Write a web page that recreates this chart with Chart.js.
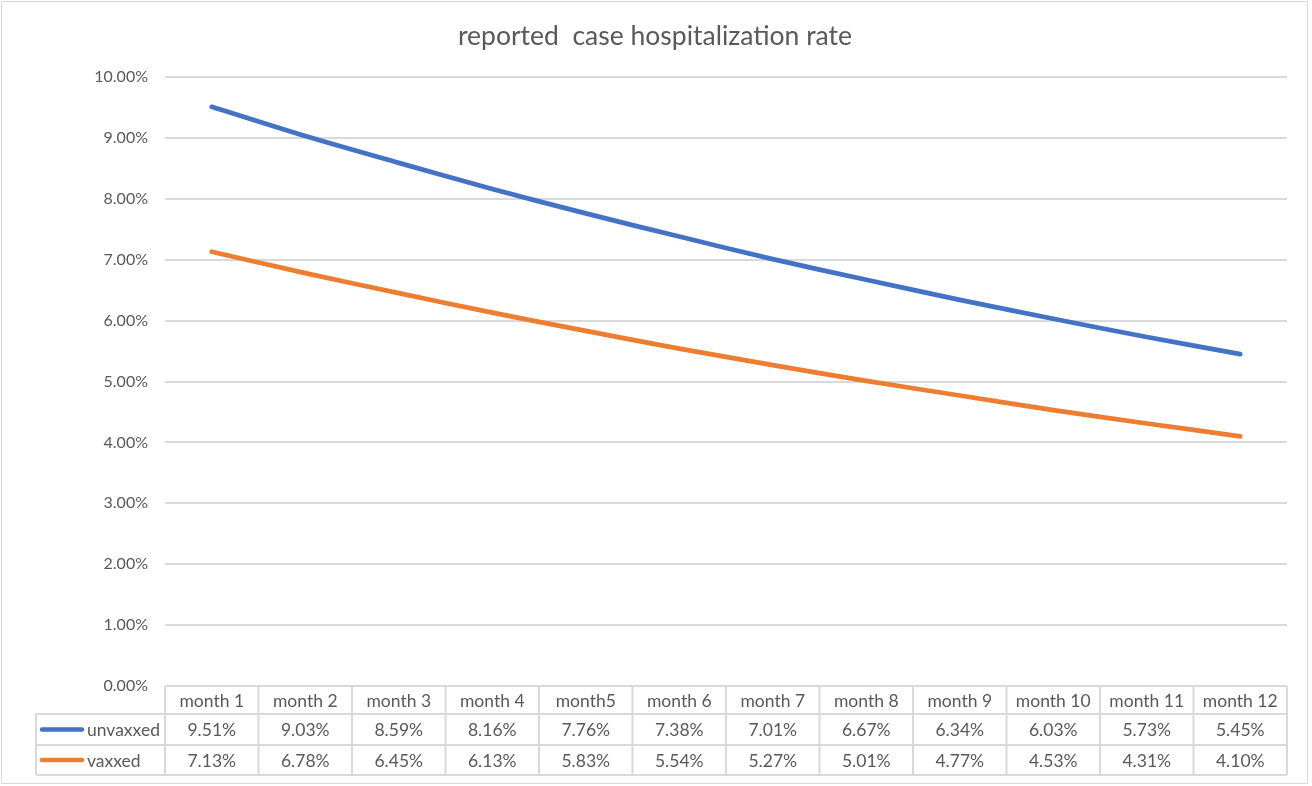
<!DOCTYPE html>
<html>
<head>
<meta charset="utf-8">
<title>reported case hospitalization rate</title>
<script src="https://cdn.jsdelivr.net/npm/chart.js@4.4.1/dist/chart.umd.min.js"></script>
<style>
  html, body { margin: 0; padding: 0; background: #fff; }
  canvas { display: block; }
</style>
</head>
<body>
<canvas id="rateChart" width="1312" height="786"></canvas>
<script>
// data
const months = ["month 1", "month 2", "month 3", "month 4", "month5", "month 6",
  "month 7", "month 8", "month 9", "month 10", "month 11", "month 12"];
const unvaxxed = [9.51, 9.03, 8.59, 8.16, 7.76, 7.38, 7.01, 6.67, 6.34, 6.03, 5.73, 5.45];
const vaxxed = [7.13, 6.78, 6.45, 6.13, 5.83, 5.54, 5.27, 5.01, 4.77, 4.53, 4.31, 4.10];
const yTicks = [0, 1, 2, 3, 4, 5, 6, 7, 8, 9, 10];

const FONT = "Lato, 'Noto Sans', sans-serif";
const TEXT = "#595959";
const GRID = "#d9d9d9";
const BLUE = "#4472c4";
const ORANGE = "#ed7d31";

// draws title, the data table with legend keys, and the outer frame
const tablePlugin = {
  id: "dataTable",
  afterDraw(chart) {
    const ctx = chart.ctx;
    const area = chart.chartArea;
    const x = chart.scales.x;
    const colW = (area.right - area.left) / months.length;
    const top = area.bottom;
    const rows = [top, top + 28, top + 59, top + 89];
    const legendLeft = 36;

    ctx.save();
    // frame
    ctx.strokeStyle = GRID;
    ctx.lineWidth = 1;
    ctx.strokeRect(1.5, 1.5, 1306, 782);

    // title
    ctx.fillStyle = TEXT;
    ctx.font = "26.5px " + FONT;
    ctx.textAlign = "center";
    ctx.textBaseline = "alphabetic";
    ctx.fillText("reported  case hospitalization rate", 655, 45);

    // table grid
    ctx.strokeStyle = GRID;
    ctx.lineWidth = 2;
    ctx.beginPath();
    ctx.moveTo(area.left, rows[0]); ctx.lineTo(area.right, rows[0]);
    for (let r = 1; r < rows.length; r++) {
      ctx.moveTo(legendLeft, rows[r]); ctx.lineTo(area.right, rows[r]);
    }
    ctx.moveTo(legendLeft, rows[1]); ctx.lineTo(legendLeft, rows[3]);
    for (let i = 0; i <= months.length; i++) {
      const cx = area.left + i * colW;
      ctx.moveTo(cx, rows[0]); ctx.lineTo(cx, rows[3]);
    }
    ctx.stroke();

    // cells
    ctx.fillStyle = TEXT;
    ctx.font = "17.5px " + FONT;
    ctx.textAlign = "center";
    ctx.textBaseline = "middle";
    months.forEach((m, i) => {
      const cx = x.getPixelForValue(i);
      ctx.fillText(m, cx, (rows[0] + rows[1]) / 2 + 1);
      ctx.fillText(unvaxxed[i].toFixed(2) + "%", cx, (rows[1] + rows[2]) / 2 + 1);
      ctx.fillText(vaxxed[i].toFixed(2) + "%", cx, (rows[2] + rows[3]) / 2 + 1);
    });

    // legend keys
    const series = [["unvaxxed", BLUE], ["vaxxed", ORANGE]];
    series.forEach((s, k) => {
      const cy = (rows[k + 1] + rows[k + 2]) / 2;
      ctx.strokeStyle = s[1];
      ctx.lineWidth = 4.5;
      ctx.lineCap = "round";
      ctx.beginPath();
      ctx.moveTo(42, cy); ctx.lineTo(82, cy);
      ctx.stroke();
      ctx.fillStyle = TEXT;
      ctx.textAlign = "left";
      ctx.fillText(s[0], 87, cy + 1);
    });
    ctx.restore();
  }
};

const ctx = document.getElementById("rateChart").getContext("2d");
const rateChart = new Chart(ctx, {
  type: "line",
  data: {
    labels: months,
    datasets: [
      {
        label: "unvaxxed",
        data: unvaxxed,
        borderColor: BLUE,
        borderWidth: 4.75,
        borderCapStyle: "round",
        pointRadius: 0,
        tension: 0.3,
      },
      {
        label: "vaxxed",
        data: vaxxed,
        borderColor: ORANGE,
        borderWidth: 4.75,
        borderCapStyle: "round",
        pointRadius: 0,
        tension: 0.3,
      },
    ],
  },
  options: {
    responsive: false,
    animation: false,
    devicePixelRatio: 1,
    layout: { padding: { left: 0, top: 77, right: 25, bottom: 100 } },
    plugins: {
      legend: { display: false },
      title: { display: false },
      tooltip: { enabled: false },
    },
    scales: {
      x: {
        offset: true,
        grid: { display: false },
        border: { display: false },
        ticks: { display: false },
        afterFit: (s) => { s.height = 0; },
      },
      y: {
        min: 0,
        max: 10,
        afterBuildTicks: (s) => { s.ticks = yTicks.map((v) => ({ value: v })); },
        afterFit: (s) => { s.width = 165; },
        border: { display: false },
        grid: { color: GRID, lineWidth: 2, drawTicks: false },
        ticks: {
          padding: 17,
          color: TEXT,
          font: { family: FONT, size: 16 },
          callback: (v) => Number(v).toFixed(2) + "%",
        },
      },
    },
  },
  plugins: [tablePlugin],
});
</script>
</body>
</html>
